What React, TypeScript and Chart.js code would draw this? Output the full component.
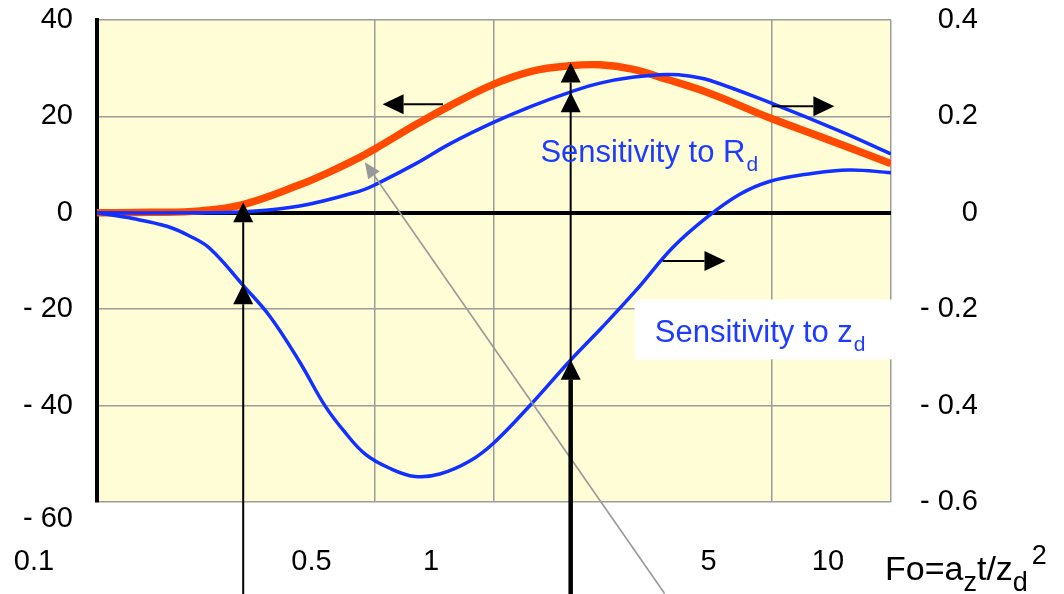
import { useEffect, useRef } from 'react';
import { Chart, registerables } from 'chart.js';

Chart.register(...registerables);

// Sensitivity to R_d, read on the left axis (thick orange curve)
const foRdLeft = [0.1, 0.136, 0.182, 0.233, 0.324, 0.386, 0.459, 0.507, 0.639, 0.774, 1.0, 1.25, 1.55, 1.85, 2.23, 2.72, 3.49, 4.94, 5.88, 7.41, 9.79, 10];
const rdLeft = [0, 0.1, 0.4, 1.7, 5.8, 8.5, 11.5, 13.5, 18.4, 22.2, 26.7, 29.4, 30.5, 30.7, 29.8, 27.7, 24.8, 19.7, 17.4, 14.3, 10.5, 10.2];

// Sensitivity to R_d, read on the right axis (thin blue curve)
const foRdRight = [0.1, 0.18, 0.233, 0.324, 0.459, 0.507, 0.639, 0.774, 1.0, 1.25, 1.55, 1.85, 2.23, 2.72, 3.1, 3.49, 4.94, 7.41, 10];
const rdRight = [0, 0, 0.002, 0.014, 0.045, 0.06, 0.103, 0.143, 0.188, 0.222, 0.25, 0.269, 0.281, 0.287, 0.284, 0.275, 0.229, 0.17, 0.122];

// Sensitivity to z_d, read on the right axis
const foZd = [0.1, 0.123, 0.15, 0.171, 0.1925, 0.233, 0.2727, 0.3243, 0.375, 0.421, 0.473, 0.546, 0.632, 0.73, 0.869, 1.0, 1.25, 1.55, 1.88, 2.29, 2.82, 3.43, 4.15, 4.94, 6.12, 7.86, 10];
const zdRight = [0, -0.012, -0.028, -0.048, -0.074, -0.15, -0.215, -0.31, -0.4, -0.455, -0.5, -0.53, -0.547, -0.542, -0.515, -0.477, -0.394, -0.308, -0.236, -0.159, -0.072, -0.01, 0.038, 0.065, 0.08, 0.089, 0.083];

// Axis ticks
const xTicks = [0.1, 0.5, 1, 5, 10];
const leftTicks = [-60, -40, -20, 0, 20, 40];
const rightTicks = [-0.6, -0.4, -0.2, 0, 0.2, 0.4];

// Vertical marker arrows: Fo position and the values their heads point at
const markerFo = [0.2335, 1.56];
const markerHeads = [
  [{ axis: 'y', v: 2.2 }, { axis: 'y2', v: -0.148 }],
  [{ axis: 'y', v: 31.2 }, { axis: 'y2', v: 0.25 }, { axis: 'y2', v: -0.305 }],
];
const markerShaftWidth = [2, 4.5];

// Horizontal arrows telling which axis each curve uses
const axisArrows = [
  { axis: 'y', v: 22.5, from: 0.744, to: 0.524 },
  { axis: 'y2', v: 0.221, from: 5.02, to: 7.2 },
  { axis: 'y2', v: -0.1, from: 2.66, to: 3.83 },
];

// Grey pointer line (tail, tip) on the left axis
const pointerFo = [2.69, 0.4727];
const pointerVal = [-79, 10.5];

const FAMILY = "'Liberation Sans', Arial, Helvetica, sans-serif";
const ORANGE = '#ff4a00';
const BLUE = '#1230ff';
const TEXT_BLUE = '#1e3cff';
const GRID = '#9c9c9c';
const PLOT_BG = '#fffdd6';

const fmt = (v: number) => {
  const n = Math.round(v * 10) / 10;
  return n < 0 ? '- ' + Math.abs(n) : String(n);
};

const pts = (xs: number[], ys: number[]) => xs.map((x, i) => ({ x, y: ys[i] }));

const noPadding = (s: any) => {
  s.paddingTop = 0;
  s.paddingBottom = 0;
  s.paddingLeft = 0;
  s.paddingRight = 0;
};

const backgroundPlugin = {
  id: 'plotBackground',
  beforeDraw(chart: any) {
    const { ctx, chartArea: a } = chart;
    ctx.save();
    ctx.fillStyle = PLOT_BG;
    ctx.fillRect(a.left, a.top, a.right - a.left, a.bottom - a.top);
    ctx.restore();
  },
  beforeDatasetsDraw(chart: any) {
    // white label box for the z_d curve
    const { ctx, chartArea: a, scales } = chart;
    const x0 = scales.x.getPixelForValue(2.26);
    const y0 = scales.y.getPixelForValue(-18);
    const y1 = scales.y.getPixelForValue(-30.4);
    ctx.save();
    ctx.fillStyle = '#ffffff';
    ctx.fillRect(x0, y0, a.right + 3 - x0, y1 - y0);
    ctx.restore();
  },
};

function upHead(ctx: CanvasRenderingContext2D, x: number, ty: number, len: number, hw: number) {
  ctx.beginPath();
  ctx.moveTo(x, ty);
  ctx.lineTo(x - hw, ty + len);
  ctx.lineTo(x + hw, ty + len);
  ctx.closePath();
  ctx.fill();
}

const overlayPlugin = {
  id: 'annotationsOverlay',
  afterDatasetsDraw(chart: any) {
    const { ctx, chartArea: a, scales, height } = chart;
    const sx = scales.x;
    ctx.save();

    // grey pointer
    {
      const x1 = sx.getPixelForValue(pointerFo[0]);
      const y1 = scales.y.getPixelForValue(pointerVal[0]);
      const x2 = sx.getPixelForValue(pointerFo[1]);
      const y2 = scales.y.getPixelForValue(pointerVal[1]);
      const ang = Math.atan2(y2 - y1, x2 - x1);
      const len = 16, hw = 7;
      ctx.strokeStyle = '#999999';
      ctx.fillStyle = '#999999';
      ctx.lineWidth = 1.6;
      ctx.beginPath();
      ctx.moveTo(x1, y1);
      ctx.lineTo(x2 - Math.cos(ang) * len, y2 - Math.sin(ang) * len);
      ctx.stroke();
      ctx.beginPath();
      ctx.moveTo(x2, y2);
      ctx.lineTo(x2 - Math.cos(ang) * len - Math.sin(ang) * hw, y2 - Math.sin(ang) * len + Math.cos(ang) * hw);
      ctx.lineTo(x2 - Math.cos(ang) * len + Math.sin(ang) * hw, y2 - Math.sin(ang) * len - Math.cos(ang) * hw);
      ctx.closePath();
      ctx.fill();
    }

    // vertical marker arrows
    ctx.strokeStyle = '#000';
    ctx.fillStyle = '#000';
    markerFo.forEach((fo, i) => {
      const x = sx.getPixelForValue(fo);
      const tips = markerHeads[i].map((h) => scales[h.axis].getPixelForValue(h.v)).sort((p, q) => p - q);
      const len = 20, hw = 10;
      const lowest = tips[tips.length - 1];
      ctx.lineWidth = markerShaftWidth[i];
      ctx.beginPath();
      ctx.moveTo(x, height);
      ctx.lineTo(x, lowest + len);
      ctx.stroke();
      ctx.lineWidth = 2;
      ctx.beginPath();
      ctx.moveTo(x, lowest + len);
      ctx.lineTo(x, tips[0] + len);
      ctx.stroke();
      tips.forEach((t) => upHead(ctx, x, t, len, hw));
    });

    // horizontal axis arrows
    axisArrows.forEach((ar) => {
      const y = scales[ar.axis].getPixelForValue(ar.v);
      const xf = sx.getPixelForValue(ar.from);
      const xt = sx.getPixelForValue(ar.to);
      const dir = Math.sign(xt - xf);
      const len = 21, hw = 10;
      ctx.lineWidth = 2;
      ctx.beginPath();
      ctx.moveTo(xf, y);
      ctx.lineTo(xt - dir * len, y);
      ctx.stroke();
      ctx.beginPath();
      ctx.moveTo(xt, y);
      ctx.lineTo(xt - dir * len, y - hw);
      ctx.lineTo(xt - dir * len, y + hw);
      ctx.closePath();
      ctx.fill();
    });

    // curve labels
    const label = (main: string, sub: string, fo: number, v: number) => {
      const x = sx.getPixelForValue(fo);
      const y = scales.y.getPixelForValue(v);
      ctx.fillStyle = TEXT_BLUE;
      ctx.textAlign = 'left';
      ctx.textBaseline = 'alphabetic';
      ctx.font = `31px ${FAMILY}`;
      ctx.fillText(main, x, y);
      const w = ctx.measureText(main).width;
      ctx.font = `21px ${FAMILY}`;
      ctx.fillText(sub, x + w + 1, y + 9);
    };
    label('Sensitivity to R', 'd', 1.309, 10.5);
    label('Sensitivity to z', 'd', 2.54, -26.9);

    // x axis title: Fo = a_z t / z_d^2
    {
      let x = a.right - 6;
      const yb = a.bottom + 78;
      ctx.fillStyle = '#000';
      const part = (t: string, size: number, dy: number) => {
        ctx.font = `${size}px ${FAMILY}`;
        ctx.fillText(t, x, yb + dy);
        x += ctx.measureText(t).width;
      };
      part('Fo=a', 34, 0);
      part('z', 27, 11);
      part('t/z', 34, 0);
      part('d', 27, 11);
      x += 4;
      part('2', 27, -16);
    }
    ctx.restore();
  },
};

export default function App() {
  const ref = useRef<HTMLCanvasElement>(null);

  useEffect(() => {
    if (!ref.current) return;
    const font = { family: FAMILY, size: 29 };
    const curve = { pointRadius: 0, tension: 0.4, cubicInterpolationMode: 'default' };
    const chart = new Chart(ref.current, {
      type: 'line',
      data: {
        datasets: [
          {
            label: 'Sensitivity to z_d',
            data: pts(foZd, zdRight),
            yAxisID: 'y2',
            borderColor: BLUE,
            borderWidth: 3.5,
            ...curve,
          },
          {
            label: 'Sensitivity to R_d (right)',
            data: pts(foRdRight, rdRight),
            yAxisID: 'y2',
            borderColor: BLUE,
            borderWidth: 3.5,
            ...curve,
          },
          {
            label: 'Sensitivity to R_d (left)',
            data: pts(foRdLeft, rdLeft),
            yAxisID: 'y',
            borderColor: ORANGE,
            borderWidth: 7.5,
            ...curve,
          },
        ],
      },
      options: {
        animation: false,
        responsive: false,
        layout: { padding: { top: 20, right: 86, left: 0, bottom: 0 } },
        plugins: { legend: { display: false }, tooltip: { enabled: false } },
        scales: {
          x: {
            type: 'logarithmic',
            min: 0.1,
            max: 10,
            afterBuildTicks: (s: any) => {
              s.ticks = xTicks.map((value) => ({ value }));
            },
            afterFit: (s: any) => {
              s.height = 92;
              noPadding(s);
            },
            grid: {
              color: (c: any) => (c.tick && c.tick.value === 0.1 ? 'rgba(0,0,0,0)' : GRID),
              lineWidth: 1.5,
              drawTicks: false,
            },
            border: { display: false },
            ticks: {
              callback: (v: any) => String(v),
              font,
              color: '#000',
              padding: 43,
              labelOffset: -63,
              autoSkip: false,
              maxRotation: 0,
            },
          },
          y: {
            position: 'left',
            min: -60,
            max: 40,
            afterBuildTicks: (s: any) => {
              s.ticks = leftTicks.map((value) => ({ value }));
            },
            afterFit: (s: any) => {
              s.width = 97;
              noPadding(s);
            },
            grid: {
              color: (c: any) => (c.tick && c.tick.value === 0 ? '#000' : GRID),
              lineWidth: (c: any) => (c.tick && c.tick.value === 0 ? 4 : 1.5),
              drawTicks: false,
            },
            border: { color: '#000', width: 4 },
            ticks: {
              callback: (v: any) => (v === -60 ? ['', '- 60'] : fmt(v)),
              font,
              color: '#000',
              padding: 24,
            },
          },
          y2: {
            position: 'right',
            min: -0.6,
            max: 0.4,
            afterBuildTicks: (s: any) => {
              s.ticks = rightTicks.map((value) => ({ value }));
            },
            afterFit: (s: any) => {
              s.width = 87;
              noPadding(s);
            },
            grid: { display: false },
            border: { display: false },
            ticks: {
              callback: (v: any) => fmt(v),
              font,
              color: '#000',
              crossAlign: 'far',
              padding: 29,
            },
          },
        },
      } as any,
      plugins: [backgroundPlugin, overlayPlugin],
    });
    return () => chart.destroy();
  }, []);

  return (
    <div style={{ position: 'absolute', left: 0, top: 0, width: 1064, height: 594, background: '#fff' }}>
      <canvas ref={ref} width={1064} height={594} style={{ display: 'block' }} />
    </div>
  );
}
